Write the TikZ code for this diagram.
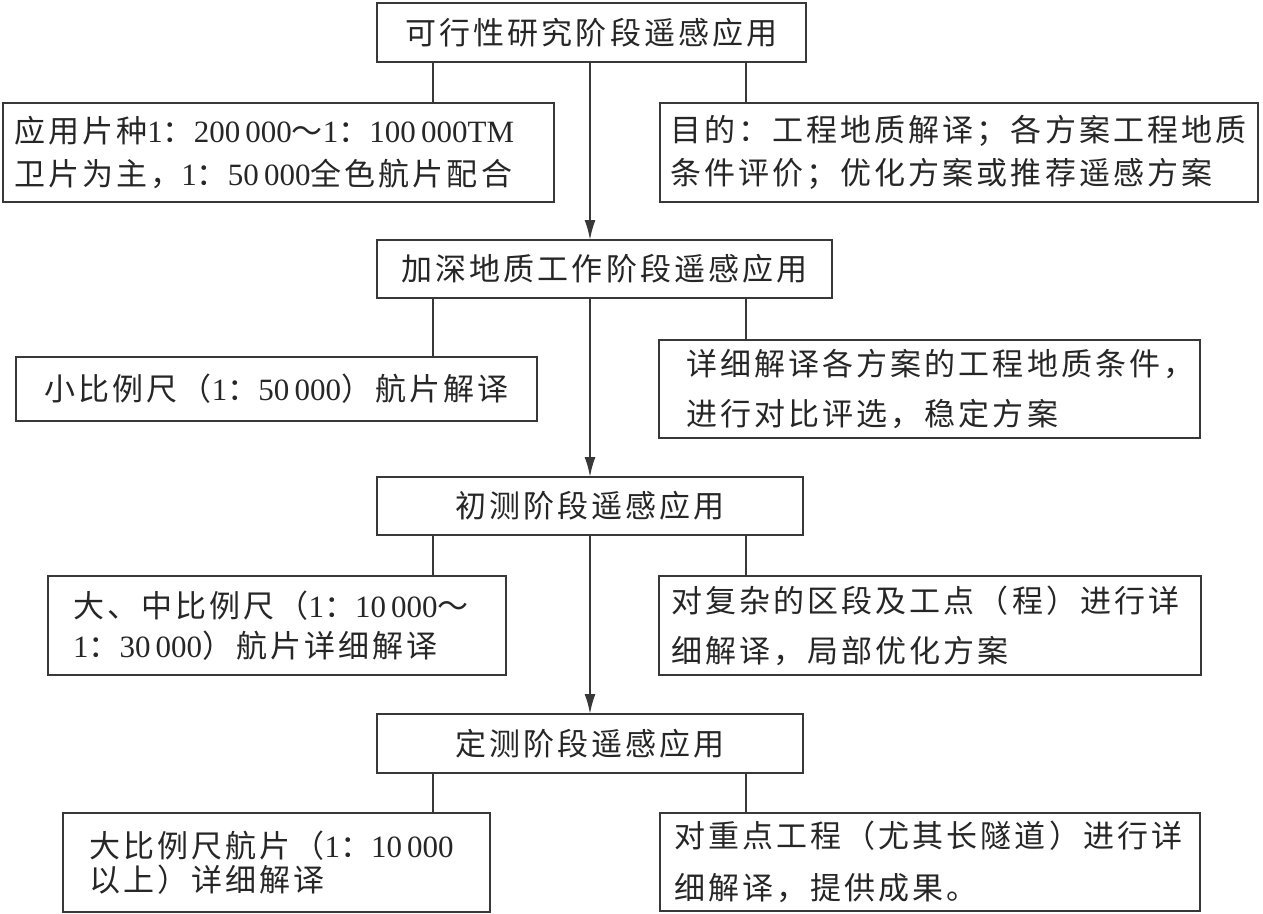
\documentclass[tikz,border=0pt]{standalone}
\usepackage{fontspec}
\setmainfont{Noto Sans CJK SC}[LetterSpace=10]
\newfontfamily\latfont{Liberation Serif}
\newcommand\lat[1]{{\latfont #1}}
\newcommand\pad[1]{\hspace*{#1pt}}
\usetikzlibrary{arrows.meta}
\tikzset{
  stage/.style={draw=black!78, line width=2.4pt, anchor=north west, outer sep=0pt,
    inner sep=0pt, text=black!85, font=\fontsize{31}{40}\selectfont},
  note/.style={draw=black!78, line width=2.4pt, anchor=north west, outer sep=0pt,
    inner sep=0pt, align=left, text=black!85, font=\fontsize{31}{#1}\selectfont},
  link/.style={draw=black!78, line width=2pt},
  flow/.style={link, -{Latex[length=20pt,width=11pt]}}
}
\begin{document}
\begin{tikzpicture}[x=1pt,y=-1pt]
\useasboundingbox (0,0) rectangle (1263,913);
% stages
\node[stage, minimum width=429pt, minimum height=59pt] (m1) at (377,3) {可行性研究阶段遥感应用};
\node[stage, minimum width=455pt, minimum height=58pt] (m2) at (377,240) {加深地质工作阶段遥感应用};
\node[stage, minimum width=426pt, minimum height=58pt] (m3) at (377,477) {初测阶段遥感应用};
\node[stage, minimum width=426pt, minimum height=59pt] (m4) at (377,714) {定测阶段遥感应用};
% left notes
\node[note=43, text width=551pt, minimum height=99pt] (l1) at (3,103)
  {\pad{11}应用片种\lat{1}：\lat{200\,000}～\lat{1}：\lat{100\,000TM}\\\pad{11}卫片为主，\lat{1}：\lat{50\,000}全色航片配合};
\node[stage, minimum width=521pt, minimum height=64pt] (l2) at (16,357)
  {小比例尺（\lat{1}：\lat{50\,000}）航片解译};
\node[note=40, text width=458pt, minimum height=99pt] (l3) at (48,576)
  {\pad{25}大、中比例尺（\lat{1}：\lat{10\,000}～\\\pad{25}\lat{1}：\lat{30\,000}）航片详细解译};
\node[note=34, text width=427pt, minimum height=99pt] (l4) at (63,813)
  {\pad{26}大比例尺航片（\lat{1}：\lat{10\,000}\\\pad{26}以上）详细解译};
% right notes
\node[note=43, text width=598pt, minimum height=99pt] (r1) at (660,103)
  {\pad{10}目的：工程地质解译；各方案工程地质\\\pad{10}条件评价；优化方案或推荐遥感方案};
\node[note=50, text width=541pt, minimum height=98pt] (r2) at (659,340)
  {\pad{27}详细解译各方案的工程地质条件，\\\pad{27}进行对比评选，稳定方案};
\node[note=50, text width=542pt, minimum height=99pt] (r3) at (659,576)
  {\pad{12}对复杂的区段及工点（程）进行详\\\pad{12}细解译，局部优化方案};
\node[note=52, text width=540pt, minimum height=98pt] (r4) at (660,813)
  {\pad{14}对重点工程（尤其长隧道）进行详\\\pad{14}细解译，提供成果。};
% branch points under each stage
\path (m1.south west) ++(56,0) coordinate (a1) ++(157,0) coordinate (c1) ++(156,0) coordinate (b1);
\path (m2.south west) ++(56,0) coordinate (a2) ++(157,0) coordinate (c2) ++(156,0) coordinate (b2);
\path (m3.south west) ++(56,0) coordinate (a3) ++(157,0) coordinate (c3) ++(156,0) coordinate (b3);
\path (m4.south west) ++(56,0) coordinate (a4) ++(157,0) coordinate (c4) ++(156,0) coordinate (b4);
% connectors
\draw[link] (a1) -- (a1 |- l1.north);
\draw[link] (b1) -- (b1 |- r1.north);
\draw[flow] (c1) -- (c1 |- m2.north);
\draw[link] (a2) -- (a2 |- l2.north);
\draw[link] (b2) -- (b2 |- r2.north);
\draw[flow] (c2) -- (c2 |- m3.north);
\draw[link] (a3) -- (a3 |- l3.north);
\draw[link] (b3) -- (b3 |- r3.north);
\draw[flow] (c3) -- (c3 |- m4.north);
\draw[link] (a4) -- (a4 |- l4.north);
\draw[link] (b4) -- (b4 |- r4.north);
\end{tikzpicture}
\end{document}
